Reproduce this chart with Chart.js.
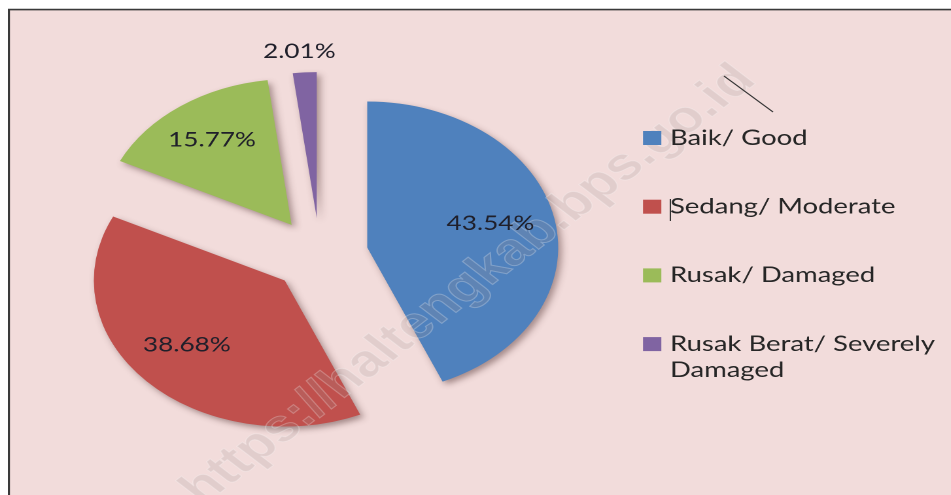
<!DOCTYPE html>
<html>
<head>
<meta charset="utf-8">
<script src="https://cdn.jsdelivr.net/npm/chart.js@4.4.1/dist/chart.umd.min.js"></script>
<style>
  html, body { margin: 0; padding: 0; background: #fff; overflow: hidden; }
  /* the source picture is stretched ~1.31x sideways, so the whole chart is too */
  #wrap { position: absolute; left: 0; top: 0; width: 727px; height: 495px; transform: scaleX(1.308); transform-origin: 0 0; }
</style>
</head>
<body>
<div id="wrap"><canvas id="roadChart"></canvas></div>

<script>
  const categories = ["Baik/ Good", "Sedang/ Moderate", "Rusak/ Damaged", "Rusak Berat/ Severely Damaged"];
  const shares = [43.54, 38.68, 15.77, 2.01];
  const sliceColors = ["#4f81bd", "#c0504d", "#9bbb59", "#8064a2"];
  const watermark = "https://haltengkab.bps.go.id";

  const burst = 37; // how far every slice is pulled out
  const pieRadius = 146;

  // page frame: white strip on top, pink plot area with a dark edge
  const backdrop = {
    id: "backdrop",
    beforeDraw(chart) {
      const { ctx, width, height } = chart;
      ctx.save();
      ctx.fillStyle = "#ffffff";
      ctx.fillRect(0, 0, width, height);
      ctx.fillStyle = "#f2dcdb";
      ctx.fillRect(6.5, 9, width, height);
      ctx.strokeStyle = "#3a3a3a";
      ctx.lineWidth = 1.6;
      ctx.beginPath();
      ctx.moveTo(6.8, height);
      ctx.lineTo(6.8, 9.6);
      ctx.lineTo(width, 9.6);
      ctx.stroke();
      ctx.restore();
    },
  };

  // draw the arcs ourselves so each one is pushed out along its middle angle
  const explode = {
    id: "explode",
    beforeDatasetDraw(chart, args) {
      const ctx = chart.ctx;
      ctx.save();
      ctx.shadowColor = "rgba(70,40,40,0.45)";
      ctx.shadowBlur = 12;
      ctx.shadowOffsetX = 5;
      ctx.shadowOffsetY = 6;
      args.meta.data.forEach((arc) => {
        const mid = (arc.startAngle + arc.endAngle) / 2;
        ctx.save();
        ctx.translate(Math.cos(mid) * burst, Math.sin(mid) * burst);
        arc.draw(ctx);
        ctx.restore();
      });
      ctx.restore();
      return false;
    },
    afterDatasetsDraw(chart) {
      const ctx = chart.ctx;
      const arcs = chart.getDatasetMeta(0).data;
      const cx = arcs[0].x, cy = arcs[0].y;

      // faint site watermark
      ctx.save();
      ctx.translate(cx + 114, cy + 30);
      ctx.rotate(-Math.PI / 4);
      ctx.font = "bold 45px 'Liberation Sans', Arial, sans-serif";
      ctx.textAlign = "center";
      ctx.textBaseline = "middle";
      ctx.fillStyle = "rgba(160,145,145,0.20)";
      ctx.fillText(watermark, 0, 0);
      ctx.strokeStyle = "rgba(255,255,255,0.25)";
      ctx.lineWidth = 1;
      ctx.strokeText(watermark, 0, 0);
      ctx.restore();

      // percentage labels
      ctx.save();
      ctx.font = "20px Lato, 'Liberation Sans', sans-serif";
      ctx.textAlign = "center";
      ctx.textBaseline = "middle";
      ctx.fillStyle = "#1f1f2a";
      arcs.forEach((arc, i) => {
        const mid = (arc.startAngle + arc.endAngle) / 2;
        const t = shares[i] < 5 ? burst + pieRadius + 17 : burst + pieRadius * 0.68;
        ctx.fillText(shares[i].toFixed(2) + "%", cx + Math.cos(mid) * t - 3, cy + Math.sin(mid) * t - 4);
      });
      ctx.restore();
    },
  };

  // legend on the right, long names wrapped
  const sideLegend = {
    id: "sideLegend",
    afterDraw(chart) {
      const ctx = chart.ctx;
      const x0 = 491.6, y0 = 138, step = 68.7, maxW = 205;
      ctx.save();
      ctx.font = "21px Lato, 'Liberation Sans', sans-serif";
      ctx.textBaseline = "middle";
      categories.forEach((name, i) => {
        const y = y0 + i * step;
        ctx.fillStyle = sliceColors[i];
        ctx.fillRect(x0, y - 7, 14, 14);
        const lines = [];
        let cur = "";
        name.split(" ").forEach((w) => {
          const test = cur ? cur + " " + w : w;
          if (cur && ctx.measureText(test).width > maxW) { lines.push(cur); cur = w; }
          else cur = test;
        });
        lines.push(cur);
        ctx.fillStyle = "#262626";
        lines.forEach((ln, k) => ctx.fillText(ln, x0 + 20.6, y + k * 26));
      });

      // stray marks left in the source image
      ctx.strokeStyle = "#333";
      ctx.lineWidth = 1;
      ctx.beginPath();
      ctx.moveTo(553.5, 76);
      ctx.lineTo(591, 112);
      ctx.moveTo(512.5, 199);
      ctx.lineTo(512.5, 221);
      ctx.stroke();
      ctx.restore();
    },
  };

  const ctx = document.getElementById("roadChart").getContext("2d");
  const roadChart = new Chart(ctx, {
    type: "pie",
    data: {
      labels: categories,
      datasets: [
        {
          data: shares,
          backgroundColor: sliceColors,
          borderWidth: 0,
          clip: false,
        },
      ],
    },
    options: {
      responsive: true,
      maintainAspectRatio: false,
      devicePixelRatio: 2,
      animation: false,
      radius: pieRadius,
      layout: { padding: { left: 0, right: 238, top: 30, bottom: 15 } },
      plugins: {
        legend: { display: false },
        tooltip: { enabled: false },
      },
      events: [],
    },
    plugins: [backdrop, explode, sideLegend],
  });
</script>
</body>
</html>
